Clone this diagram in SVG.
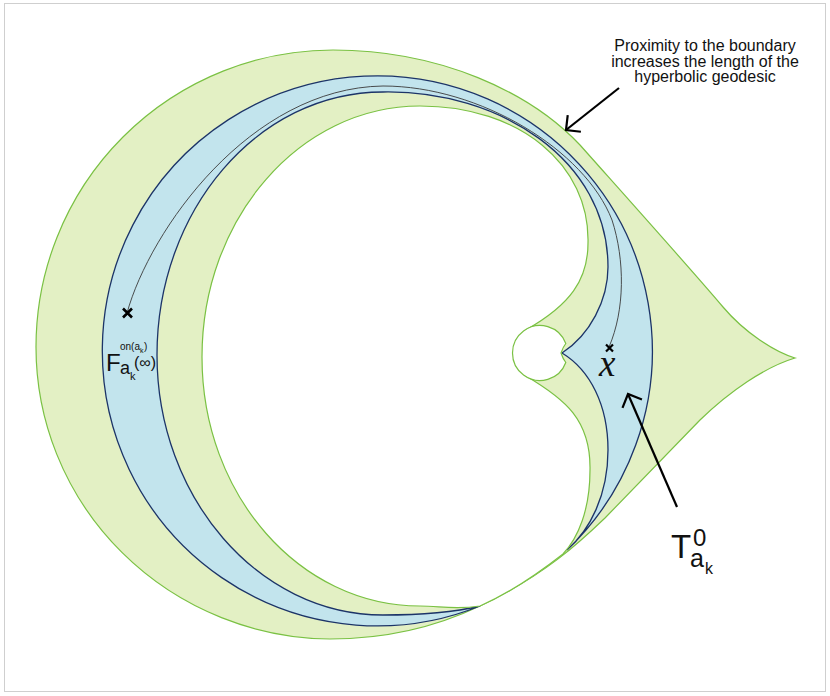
<svg xmlns="http://www.w3.org/2000/svg" width="830" height="696" viewBox="0 0 830 696">
<style>
.green{fill:#e3f0c4;stroke:#7ac143;stroke-width:1.2}
.blue{fill:#c2e4ed;stroke:#1c3468;stroke-width:1.3}
.white{fill:#ffffff;stroke:#7ac143;stroke-width:1.2}
.geo{fill:none;stroke:#3a3a3a;stroke-width:0.9}
.mark{stroke:#000;stroke-width:2.6;stroke-linecap:butt}
.arrow{fill:none;stroke:#000;stroke-width:2.2}
text{font-family:"Liberation Sans",Arial,sans-serif;fill:#111}
</style>
<defs>
<marker id="vhead" markerUnits="userSpaceOnUse" orient="auto" refX="0" refY="0" markerWidth="30" markerHeight="30" viewBox="-16 -15 20 30" overflow="visible">
<path d="M -10.6,-10.6 L 0,0 L -10.6,10.6" fill="none" stroke="#000" stroke-width="2.2"/>
</marker>
</defs>
<rect x="4.5" y="3.5" width="821" height="688" fill="#fff" stroke="#cfcfcf" stroke-width="1"/>

<g id="outer-region">
<path class="green" d="M 795,358 C 765,367 730,391 700,420 L 605,518 C 580,542 545,575 480,606 C 440,625 390,639 330,639 A 297 292 0 0 1 36,347 A 297 297 0 0 1 333,50 C 440,50 530,92 580,145 C 620,190 690,268 723,307 C 745,333 775,352 795,358 Z"/>
</g>
<g id="blue-band">
<path class="blue" d="M 480,606 A 275 275 0 1 1 567,550 C 590,530 608,495 608,450 C 608,405 590,370 562,353 C 590,335 608,300 608,267 C 608,160 500,90 383,92 C 258,92 157,210 157,355 C 157,497 258,615 383,615 C 425,615 455,612 480,606 Z"/>
</g>
<g id="inner-white">
<path class="white" d="M 420,106 C 520,106 590,165 588,243 C 588,280 570,305 526.4,329.7 L 526,376 C 565,399 591,420 590,470 C 590,510 578,538 563,554 C 540,572 512,592 480,606 C 455,610 440,606 420,606 C 299.7,606 202,495 202,357 C 202,218.4 299.7,106 420,106 Z"/>
</g>
<g id="small-circle">
<path class="white" d="M 561,353 Q 563,347 565.8,343.5 A 27.5 27.5 0 1 0 565.8,362.5 Q 563,359 561,353 Z"/>
</g>

<g id="connectors">
<path id="geodesic" class="geo" d="M 127,313 C 150,230 250,88 383,86 C 480,86 585,150 612,220 C 625,260 625,310 609,347"/>
<line class="arrow" x1="619" y1="88" x2="566" y2="130" marker-end="url(#vhead)"/>
<line class="arrow" x1="677" y1="507" x2="628" y2="394" marker-end="url(#vhead)"/>
</g>

<g id="point-F">
<path class="mark" d="M 123,308.5 L 132,317.5 M 132,308.5 L 123,317.5"/>
<text x="106" y="371" font-size="24">F</text>
<text x="120" y="374" font-size="18">a</text>
<text x="130" y="380" font-size="11">k</text>
<text x="120" y="350" font-size="10">on(a</text>
<text x="140" y="353" font-size="7">k</text>
<text x="144" y="350" font-size="10">)</text>
<text x="134" y="368" font-size="16">(∞)</text>
</g>
<g id="point-x">
<path class="mark" d="M 606,344.5 L 613,351.5 M 613,344.5 L 606,351.5" style="stroke-width:2.2"/>
<text x="599" y="376" font-size="37" style="font-family:'Liberation Serif','Times New Roman',serif;font-style:italic">x</text>
</g>
<g id="label-T">
<text x="671" y="558" font-size="33">T</text>
<text x="693" y="546" font-size="24">0</text>
<text x="690" y="567" font-size="25">a</text>
<text x="705" y="574" font-size="16">k</text>
</g>
<g id="note">
<text x="705" y="51" font-size="16" text-anchor="middle">Proximity to the boundary</text>
<text x="705" y="66.5" font-size="16" text-anchor="middle">increases the length of the</text>
<text x="705" y="82" font-size="16" text-anchor="middle">hyperbolic geodesic</text>
</g>
</svg>
